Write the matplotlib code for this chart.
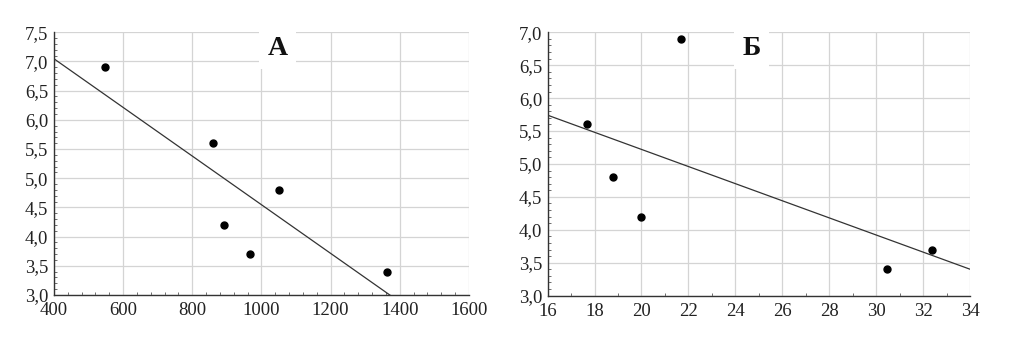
import numpy as np
import matplotlib
matplotlib.use("Agg")
import matplotlib.pyplot as plt
from matplotlib.ticker import MultipleLocator, FuncFormatter

plt.rcParams['font.family'] = ['Liberation Serif', 'DejaVu Serif']

# panel A
xa = [547, 861, 891, 968, 1051, 1364]
ya = [6.9, 5.6, 4.2, 3.7, 4.8, 3.4]
# panel Б
xb = [17.67, 18.77, 20.0, 21.67, 30.47, 32.4]
yb = [5.6, 4.8, 4.2, 6.9, 3.4, 3.7]

comma = FuncFormatter(lambda v, p: ('%.1f' % v).replace('.', ','))


def draw_panel(ax, x, y, xlim, ylim, xstep, xminor, ystep, label, label_x):
    ax.set_xlim(*xlim)
    ax.set_ylim(*ylim)
    ax.xaxis.set_major_locator(MultipleLocator(xstep))
    ax.xaxis.set_minor_locator(MultipleLocator(xminor))
    ax.yaxis.set_major_locator(MultipleLocator(ystep))
    ax.yaxis.set_minor_locator(MultipleLocator(0.1))
    ax.yaxis.set_major_formatter(comma)
    ax.grid(True, which='major', color='#d4d4d4', linewidth=0.9)
    ax.set_axisbelow(True)
    for s in ['top', 'right']:
        ax.spines[s].set_visible(False)
    for s in ['left', 'bottom']:
        ax.spines[s].set_color('#333333')
        ax.spines[s].set_linewidth(1.0)
    ax.tick_params(which='major', length=0, labelsize=13.5, colors='#222222')
    ax.tick_params(axis='x', which='major', pad=5)
    ax.tick_params(axis='y', which='major', pad=4)
    ax.tick_params(which='minor', direction='in', length=2.5, color='#555555')

    # regression line over the whole x range, clipped to axes
    k, b = np.polyfit(x, y, 1)
    xs = np.array(xlim, dtype=float)
    ax.plot(xs, k * xs + b, color='#333333', linewidth=0.9, clip_on=True)
    ax.plot(x, y, 'o', color='black', markersize=5, clip_on=False)

    ax.text(label_x, 0.94, label, transform=ax.transAxes, ha='center', va='center',
            fontsize=20, fontweight='bold', color='#111111',
            bbox=dict(facecolor='white', edgecolor='none', pad=6))


fig = plt.figure(figsize=(10.16, 3.45), dpi=100)
ax1 = fig.add_axes([0.0531, 0.145, 0.4085, 0.7615])
ax2 = fig.add_axes([0.539, 0.143, 0.4157, 0.7635])

draw_panel(ax1, xa, ya, (400, 1600), (3.0, 7.5), 200, 40, 0.5, 'А', 0.539)
draw_panel(ax2, xb, yb, (16, 34), (3.0, 7.0), 2, 1, 0.5, 'Б', 0.483)

fig.savefig('out.png', dpi=100)
